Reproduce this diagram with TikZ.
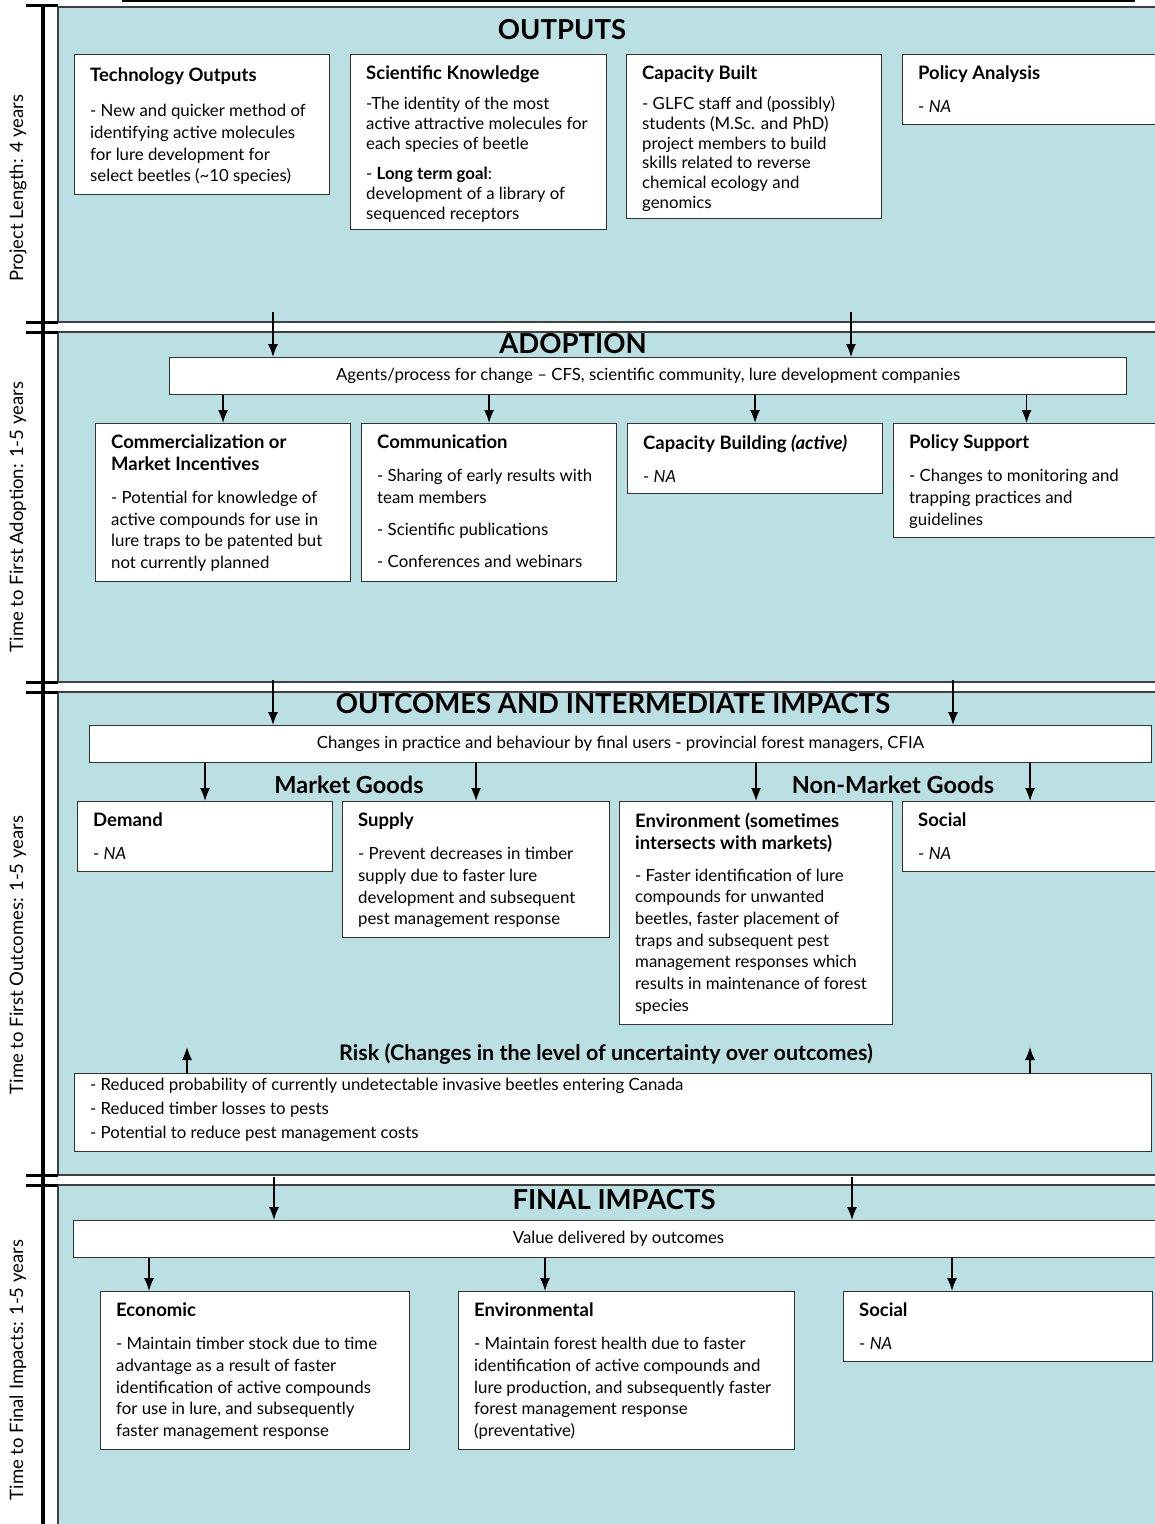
\documentclass[tikz,border=0pt]{standalone}
\usepackage{fontspec}
\setmainfont{Lato}
\usetikzlibrary{arrows.meta,calc,positioning}
\definecolor{panelblue}{RGB}{186,224,227}
\tikzset{%
	panel/.style     = {draw=black!75, fill=panelblue, line width=1.2pt},
	tick/.style      = {line width=3pt},
	box/.style       = {draw=black!80, fill=white, line width=1.1pt, anchor=north west, inner sep=0pt},
	boxtext/.style   = {anchor=north west, align=left, inner xsep=16pt, inner ysep=12pt, font=\fontsize{16.8}{21.7}\selectfont},
	banner/.style    = {draw=black!80, fill=white, line width=1.1pt, anchor=north west, inner sep=0pt, font=\fontsize{16.8}{18}\selectfont},
	heading/.style   = {font=\fontsize{27.5}{27.5}\selectfont\bfseries},
	subhead/.style   = {font=\fontsize{23.5}{23.5}\selectfont\bfseries},
	sidelabel/.style = {rotate=90, font=\fontsize{18.5}{18.5}\selectfont},
	arrow/.style     = {line width=1.3pt, -{Latex[length=13pt,width=10pt]}},
}
\newcommand{\boxtitle}[1]{{\fontsize{18.5}{21.7}\selectfont\bfseries #1}}

\begin{document}
\begin{tikzpicture}[x=1pt,y=-1pt]
	\useasboundingbox (0,0) rectangle (1155,1524);
	
	% panels
	\draw[panel] (58,7) rectangle (1175,322);
	\draw[panel] (58,332) rectangle (1175,682);
	\draw[panel] (58,692) rectangle (1175,1175);
	\draw[panel] (58,1185) rectangle (1175,1540);
	
	% time line
	\draw[line width=2pt] (122,1) -- (1135,1);
	\draw[line width=3.5pt] (43,5) -- (43,1530);
	\foreach \y in {5,322,332,682,692,1175,1185}
		\draw[tick] (26,\y) -- (58,\y);
	\node[sidelabel] (lenlbl) at (18,188) {Project Length: 4 years};
	\node[sidelabel] (adolbl) at (18,517) {Time to First Adoption: 1-5 years};
	\node[sidelabel] (outlbl) at (18,955) {Time to First Outcomes: 1-5 years};
	\node[sidelabel] (finlbl) at (18,1370) {Time to Final Impacts: 1-5 years};
	
	% OUTPUTS
	\node[heading] (outputs) at (562,30) {OUTPUTS};
	\node[box, minimum width=255, minimum height=140] (techbox) at (74,54) {};
	\node[boxtext, inner ysep=14pt] (techtxt) at (techbox.north west) {\boxtitle{Technology Outputs}\\[13pt]
		- New and quicker method of\\
		identifying active molecules\\
		for lure development for\\
		select beetles (\textasciitilde10 species)};
	\node[box, minimum width=256, minimum height=175] (sciebox) at (350,54) {};
	\node[boxtext, font=\fontsize{16.8}{20}\selectfont] (scietxt) at (sciebox.north west) {\boxtitle{Scientific Knowledge}\\[10pt]
		-The identity of the most\\
		active attractive molecules for\\
		each species of beetle\\[10pt]
		- \textbf{Long term goal}:\\
		development of a library of\\
		sequenced receptors};
	\node[box, minimum width=255, minimum height=164] (capbox) at (626,54) {};
	\node[boxtext, font=\fontsize{16.8}{19.7}\selectfont] (captxt) at (capbox.north west) {\boxtitle{Capacity Built}\\[10pt]
		- GLFC staff and (possibly)\\
		students (M.Sc. and PhD)\\
		project members to build\\
		skills related to reverse\\
		chemical ecology and\\
		genomics};
	\node[box, minimum width=260, minimum height=70] (polbox) at (902,54) {};
	\node[boxtext] (poltxt) at (polbox.north west) {\boxtitle{Policy Analysis}\\[11pt]
		- \textit{NA}};
	
	% ADOPTION
	\node[heading] (adoption) at (573,344) {ADOPTION};
	\node[banner, minimum width=957, minimum height=37] (agents) at (169,357) {Agents/process for change -- CFS, scientific community, lure development companies};
	\node[box, minimum width=255, minimum height=158] (mktbox) at (95,423) {};
	\node[boxtext] (mkttxt) at (mktbox.north west) {\boxtitle{Commercialization or}\\
		\boxtitle{Market Incentives}\\[11pt]
		- Potential for knowledge of\\
		active compounds for use in\\
		lure traps to be patented but\\
		not currently planned};
	\node[box, minimum width=255, minimum height=158] (commbox) at (361,423) {};
	\node[boxtext] (commtxt) at (commbox.north west) {\boxtitle{Communication}\\[11pt]
		- Sharing of early results with\\
		team members\\[10pt]
		- Scientific publications\\[11pt]
		- Conferences and webinars};
	\node[box, minimum width=255, minimum height=70] (capbbox) at (627,423) {};
	\node[boxtext] (capbtxt) at (capbbox.north west) {\boxtitle{Capacity Building \textit{(active)}}\\[11pt]
		- \textit{NA}};
	\node[box, minimum width=266, minimum height=114] (polsbox) at (893,423) {};
	\node[boxtext] (polstxt) at (polsbox.north west) {\boxtitle{Policy Support}\\[11pt]
		- Changes to monitoring and\\
		trapping practices and\\
		guidelines};
	
	% OUTCOMES AND INTERMEDIATE IMPACTS
	\node[heading] (outcomes) at (613,704) {OUTCOMES AND INTERMEDIATE IMPACTS};
	\node[banner, minimum width=1062, minimum height=37] (changes) at (89,725) {Changes in practice and behaviour by final users - provincial forest managers, CFIA};
	\node[subhead] (market) at (349,785) {Market Goods};
	\node[subhead] (nonmarket) at (893,785) {Non-Market Goods};
	\node[box, minimum width=255, minimum height=70] (demand) at (77,801) {};
	\node[boxtext] (demtxt) at (demand.north west) {\boxtitle{Demand}\\[11pt]
		- \textit{NA}};
	\node[box, minimum width=267, minimum height=136] (supply) at (342,801) {};
	\node[boxtext] (suptxt) at (supply.north west) {\boxtitle{Supply}\\[11pt]
		- Prevent decreases in timber\\
		supply due to faster lure\\
		development and subsequent\\
		pest management response};
	\node[box, minimum width=273, minimum height=223] (envbox) at (619,801) {};
	\node[boxtext] (envtxt) at (envbox.north west) {\boxtitle{Environment (sometimes}\\
		\boxtitle{intersects with markets)}\\[10pt]
		- Faster identification of lure\\
		compounds for unwanted\\
		beetles, faster placement of\\
		traps and subsequent pest\\
		management responses which\\
		results in maintenance of forest\\
		species};
	\node[box, minimum width=255, minimum height=70] (social) at (902,801) {};
	\node[boxtext] (soctxt) at (social.north west) {\boxtitle{Social}\\[11pt]
		- \textit{NA}};
	\node[font=\fontsize{21.5}{24}\selectfont\bfseries] (risktitle) at (606,1054) {Risk (Changes in the level of uncertainty over outcomes)};
	\node[box, minimum width=1077, minimum height=78] (risk) at (74,1073) {};
	\node[boxtext, inner ysep=5pt, font=\fontsize{16.8}{24}\selectfont] (risktxt) at (risk.north west) {- Reduced probability of currently undetectable invasive beetles entering Canada\\
		- Reduced timber losses to pests\\
		- Potential to reduce pest management costs};
	
	% FINAL IMPACTS
	\node[heading] (final) at (614,1200) {FINAL IMPACTS};
	\node[banner, minimum width=1090, minimum height=37] (value) at (73,1220) {Value delivered by outcomes};
	\node[box, minimum width=309, minimum height=158] (econ) at (100,1291) {};
	\node[boxtext] (econtxt) at (econ.north west) {\boxtitle{Economic}\\[11pt]
		- Maintain timber stock due to time\\
		advantage as a result of faster\\
		identification of active compounds\\
		for use in lure, and subsequently\\
		faster management response};
	\node[box, minimum width=336, minimum height=158] (envimp) at (458,1291) {};
	\node[boxtext] (envimptxt) at (envimp.north west) {\boxtitle{Environmental}\\[11pt]
		- Maintain forest health due to faster\\
		identification of active compounds and\\
		lure production, and subsequently faster\\
		forest management response\\
		(preventative)};
	\node[box, minimum width=309, minimum height=70] (socimp) at (843,1291) {};
	\node[boxtext] (socimptxt) at (socimp.north west) {\boxtitle{Social}\\[11pt]
		- \textit{NA}};
	
	% arrows
	\coordinate (p1a) at (273,312);
	\coordinate (p1b) at (851,312);
	\coordinate (p2a) at (273,680);
	\coordinate (p2b) at (953,680);
	\coordinate (p3a) at (274,1177);
	\coordinate (p3b) at (852,1177);
	\coordinate (r1) at (187,1047);
	\coordinate (r2) at (1030,1047);
	\coordinate (f1) at (149,0);
	\coordinate (f2) at (545,0);
	\coordinate (f3) at (952,0);
	\draw[arrow] (p1a) -- (p1a |- agents.north);
	\draw[arrow] (p1b) -- (p1b |- agents.north);
	\foreach \b in {mktbox,commbox,capbbox,polsbox}
		\draw[arrow] (agents.south -| \b.north) -- (\b.north);
	\draw[arrow] (p2a) -- (p2a |- changes.north);
	\draw[arrow] (p2b) -- (p2b |- changes.north);
	\foreach \b in {demand,supply,envbox,social}
		\draw[arrow] (changes.south -| \b.north) -- (\b.north);
	\draw[arrow] (risk.north -| r1) -- (r1);
	\draw[arrow] (risk.north -| r2) -- (r2);
	\draw[arrow] (p3a) -- (p3a |- value.north);
	\draw[arrow] (p3b) -- (p3b |- value.north);
	\draw[arrow] (value.south -| f1) -- (econ.north -| f1);
	\draw[arrow] (value.south -| f2) -- (envimp.north -| f2);
	\draw[arrow] (value.south -| f3) -- (socimp.north -| f3);
	
\end{tikzpicture}
\end{document}
